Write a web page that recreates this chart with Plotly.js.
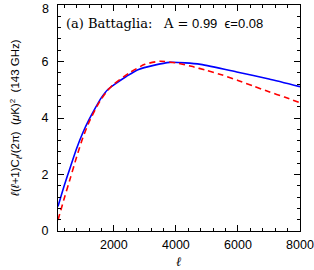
<!DOCTYPE html>
<html>
<head>
<meta charset="utf-8">
<script src="https://cdn.plot.ly/plotly-3.0.1.min.js"></script>
<style>html,body{margin:0;padding:0;background:#fff;}#plot{width:314px;height:270px;}</style>
</head>
<body>
<div id="plot"></div>
<script>
const blueL = [200, 400, 600, 800, 1000, 1200, 1400, 1600, 1800, 2000, 2400, 2800, 3800, 4800, 6000, 7000, 8000];
const blueV = [0.87, 1.6, 2.27, 2.92, 3.48, 3.94, 4.35, 4.72, 5.0, 5.17, 5.47, 5.72, 5.97, 5.90, 5.62, 5.38, 5.11];
const redL = [200, 400, 600, 800, 1000, 1200, 1400, 1600, 1800, 2000, 2500, 3000, 3500, 4000, 4500, 5000, 5500, 6000, 6500, 7000, 7500, 8000];
const redV = [0.39, 1.15, 1.88, 2.62, 3.3, 3.85, 4.3, 4.68, 4.98, 5.2, 5.6, 5.9, 6.01, 5.95, 5.83, 5.68, 5.52, 5.33, 5.13, 4.93, 4.74, 4.54];
const xTicks = [2000, 4000, 6000, 8000];
const yTicks = [0, 2, 4, 6, 8];
const yTickText = ['0', '2', '4', '6', ''];
const topLabel = '8';

const traces = [
  {x: blueL, y: blueV, mode: 'lines', line: {color: '#0000ff', width: 1.6, shape: 'spline', smoothing: 0.6}, hoverinfo: 'skip'},
  {x: redL, y: redV, mode: 'lines', line: {color: '#ff0000', width: 1.6, dash: '6px,4px', shape: 'spline', smoothing: 0.6}, hoverinfo: 'skip'}
];

const tickFont = {family: 'Liberation Sans, Arial, sans-serif', size: 12.5, color: '#000'};
const axisCommon = {
  showgrid: false, zeroline: false, showline: true, linecolor: '#000', linewidth: 1,
  mirror: 'allticks', ticks: 'inside', ticklen: 6, tickcolor: '#000', tickwidth: 1,
  tickfont: tickFont
};

const layout = {
  width: 314, height: 270,
  margin: {l: 58, r: 14, t: 5, b: 39},
  paper_bgcolor: '#fff', plot_bgcolor: '#fff',
  showlegend: false,
  xaxis: Object.assign({}, axisCommon, {
    range: [200, 8000.5], tickvals: xTicks, ticktext: xTicks.map(String),
    minor: {dtick: 400, tick0: 0, ticks: 'inside', ticklen: 3, tickcolor: '#000'},
    ticklabelstandoff: 2
  }),
  yaxis: Object.assign({}, axisCommon, {
    range: [0, 8.0005], tickvals: yTicks, ticktext: yTickText,
    minor: {dtick: 0.4, tick0: 0, ticks: 'inside', ticklen: 3, tickcolor: '#000'},
    ticklabelstandoff: 6
  }),
  annotations: [
    {xref: 'paper', yref: 'y', x: 0, y: 8, xanchor: 'right', yanchor: 'top', xshift: -7, yshift: 5, showarrow: false,
     text: topLabel, font: tickFont},
    {xref: 'paper', yref: 'paper', x: 0.025, y: 0.92, xanchor: 'left', yanchor: 'middle', showarrow: false,
     text: '(a) Battaglia:', font: {family: 'DejaVu Serif, serif', size: 13, color: '#000'}},
    {xref: 'paper', yref: 'paper', x: 0.425, y: 0.92, xanchor: 'left', yanchor: 'middle', showarrow: false,
     text: '<span style="font-family:DejaVu Serif">A =</span> 0.99  ϵ=0.08', font: {family: 'Liberation Sans, Arial, sans-serif', size: 13, color: '#000'}},
    {xref: 'paper', yref: 'paper', x: 0.5, y: -0.135, xanchor: 'center', yanchor: 'middle', showarrow: false,
     text: '<i>ℓ</i>', font: {family: 'DejaVu Serif, serif', size: 13, color: '#000'}},
    {xref: 'paper', yref: 'paper', x: -0.175, y: 0.5, xanchor: 'center', yanchor: 'middle', showarrow: false, textangle: -90,
     text: '<i>ℓ</i>(<i>ℓ</i>+1)C<sub><i>ℓ</i></sub>/(2π)  (<i>μ</i>K)<sup>2</sup>  (143 GHz)',
     font: {family: 'Liberation Sans, Arial, sans-serif', size: 11.5, color: '#000'}}
  ]
};

Plotly.newPlot('plot', traces, layout, {staticPlot: true, displayModeBar: false});
</script>
</body>
</html>
